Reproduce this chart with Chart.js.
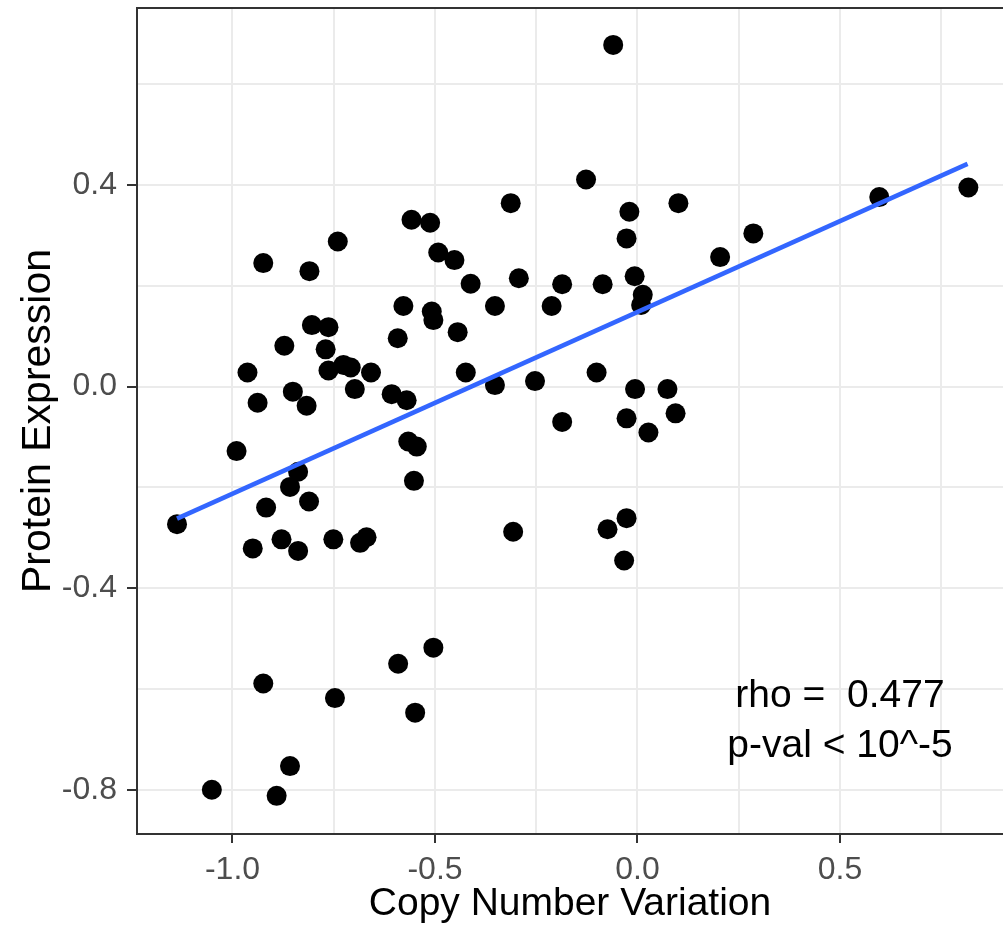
<!DOCTYPE html>
<html>
<head>
<meta charset="utf-8">
<script src="https://cdn.jsdelivr.net/npm/chart.js@4"></script>
<style>
  body { margin: 0; background: #ffffff; }
  canvas { display: block; }
</style>
</head>
<body>
<canvas id="graficaCnv" width="1003" height="940"></canvas>
<script>
// Values
const copyNumber = [
  -1.137, -1.051, -0.990, -0.963, -0.950, -0.938, -0.924, -0.924, -0.917, -0.891,
  -0.879, -0.872, -0.858, -0.858, -0.851, -0.838, -0.838, -0.817, -0.810, -0.811,
  -0.804, -0.763, -0.770, -0.763, -0.751, -0.747, -0.740, -0.726, -0.708, -0.698,
  -0.685, -0.669, -0.658, -0.607, -0.592, -0.591, -0.578, -0.570, -0.566, -0.558,
  -0.552, -0.549, -0.545, -0.512, -0.508, -0.504, -0.504, -0.492, -0.452, -0.444,
  -0.424, -0.412, -0.352, -0.352, -0.313, -0.307, -0.293, -0.253, -0.212, -0.186,
  -0.186, -0.127, -0.101, -0.086, -0.074, -0.060, -0.033, -0.027, -0.027, -0.027,
  -0.020, -0.007, -0.006, 0.013, 0.009, 0.027, 0.074, 0.094, 0.101, 0.204,
  0.286, 0.597, 0.817
];
const proteinExpression = [
  -0.273, -0.800, -0.128, 0.028, -0.321, -0.032, 0.245, -0.589, -0.240, -0.812,
  -0.303, 0.081, -0.753, -0.199, -0.010, -0.326, -0.169, -0.038, 0.229, -0.228,
  0.122, 0.118, 0.074, 0.032, -0.303, -0.618, 0.288, 0.043, 0.038, -0.005,
  -0.310, -0.299, 0.028, -0.015, 0.096, -0.550, 0.160, -0.027, -0.109, 0.331,
  -0.187, -0.647, -0.119, 0.325, 0.149, 0.132, -0.518, 0.266, 0.251, 0.108,
  0.028, 0.204, 0.160, 0.003, 0.364, -0.288, 0.215, 0.011, 0.160, 0.203,
  -0.070, 0.411, 0.028, 0.203, -0.283, 0.678, -0.345, -0.261, -0.063, 0.294,
  0.347, 0.219, -0.005, 0.182, 0.162, -0.091, -0.005, -0.053, 0.364, 0.257,
  0.304, 0.376, 0.395
];

// fitted line (ends as drawn in the picture)
const fitX = [-1.137, 0.815];
const fitY = [-0.262, 0.442];

const xMajorTicks = [-1.0, -0.5, 0.0, 0.5];
const xMinorTicks = [-0.75, -0.25, 0.25, 0.75];
const xTickLabels = ['-1.0', '-0.5', '0.0', '0.5'];
const yMajorTicks = [-0.8, -0.4, 0.0, 0.4];
const yMinorTicks = [-0.6, -0.2, 0.2, 0.6];
const yTickLabels = ['-0.8', '-0.4', '0.0', '0.4'];

const statLines = ['rho =  0.477', 'p-val < 10^-5'];
const statX = 0.5;
const statY = [-0.635, -0.734];

const fuente = '"Liberation Sans", Arial, sans-serif';

function esMayor(valor, lista) {
    return lista.some(v => Math.abs(v - valor) < 1e-9);
}

function construirTicks(mayores, menores) {
    return function (scale) {
        scale.ticks = mayores.concat(menores).sort((a, b) => a - b).map(v => ({ value: v }));
    };
}

function etiqueta(mayores, etiquetas) {
    return function (value) {
        const i = mayores.findIndex(v => Math.abs(v - value) < 1e-9);
        return i >= 0 ? etiquetas[i] : '';
    };
}

// no extra room for half labels: the panel is placed by hand
function sinRelleno(scale) {
    scale.paddingTop = 0;
    scale.paddingBottom = 0;
    scale.paddingLeft = 0;
    scale.paddingRight = 0;
}

// panel border (grey20) and the rho / p-value text
const marcoYTexto = {
    id: 'marcoYTexto',
    afterDraw(chart) {
        const { ctx, chartArea, scales } = chart;
        ctx.save();
        ctx.font = '39px ' + fuente;
        ctx.fillStyle = '#000000';
        ctx.textAlign = 'center';
        ctx.textBaseline = 'alphabetic';
        statLines.forEach((linea, i) => {
            ctx.fillText(linea, scales.x.getPixelForValue(statX), scales.y.getPixelForValue(statY[i]));
        });
        ctx.strokeStyle = '#333333';
        ctx.lineWidth = 2;
        ctx.beginPath();
        ctx.moveTo(chartArea.right + 2, chartArea.top);
        ctx.lineTo(chartArea.left, chartArea.top);
        ctx.lineTo(chartArea.left, chartArea.bottom);
        ctx.lineTo(chartArea.right + 2, chartArea.bottom);
        ctx.stroke();
        ctx.restore();
    }
};

const puntos = copyNumber.map((x, i) => ({ x: x, y: proteinExpression[i] }));
const recta = fitX.map((x, i) => ({ x: x, y: fitY[i] }));

new Chart(document.getElementById('graficaCnv').getContext('2d'), {
    type: 'scatter',
    data: {
        datasets: [
            {
                type: 'line',
                data: recta,
                borderColor: '#3366FF',
                borderWidth: 4.5,
                pointRadius: 0,
                fill: false,
                order: 0
            },
            {
                data: puntos,
                backgroundColor: '#000000',
                borderWidth: 0,
                pointRadius: 10,
                order: 1
            }
        ]
    },
    options: {
        responsive: false,
        animation: false,
        devicePixelRatio: 1,
        layout: { autoPadding: false, padding: { top: 8, right: 0, bottom: 0, left: 0 } },
        plugins: { legend: { display: false }, tooltip: { enabled: false } },
        scales: {
            x: {
                type: 'linear',
                min: -1.2358,
                max: 0.9025,
                afterBuildTicks: construirTicks(xMajorTicks, xMinorTicks),
                afterFit(scale) { scale.height = 106; sinRelleno(scale); },
                border: { display: false },
                grid: {
                    color: '#EBEBEB',
                    lineWidth: 2,
                    tickLength: 9,
                    tickWidth: 2,
                    tickColor: ctx => esMayor(ctx.tick.value, xMajorTicks) ? '#333333' : 'rgba(0,0,0,0)'
                },
                ticks: {
                    autoSkip: false,
                    maxRotation: 0,
                    padding: 8,
                    color: '#4D4D4D',
                    font: { family: fuente, size: 32 },
                    callback: etiqueta(xMajorTicks, xTickLabels)
                },
                title: {
                    display: true,
                    text: 'Copy Number Variation',
                    color: '#000000',
                    font: { family: fuente, size: 39 },
                    padding: { top: 0, bottom: 12 }
                }
            },
            y: {
                type: 'linear',
                min: -0.8877,
                max: 0.7512,
                afterBuildTicks: construirTicks(yMajorTicks, yMinorTicks),
                afterFit(scale) { scale.width = 137; sinRelleno(scale); },
                border: { display: false },
                grid: {
                    color: '#EBEBEB',
                    lineWidth: 2,
                    tickLength: 10,
                    tickWidth: 2,
                    tickColor: ctx => esMayor(ctx.tick.value, yMajorTicks) ? '#333333' : 'rgba(0,0,0,0)'
                },
                ticks: {
                    autoSkip: false,
                    padding: 10,
                    color: '#4D4D4D',
                    font: { family: fuente, size: 32 },
                    callback: etiqueta(yMajorTicks, yTickLabels)
                },
                title: {
                    display: true,
                    text: 'Protein Expression',
                    color: '#000000',
                    font: { family: fuente, size: 41 },
                    padding: { top: 14, bottom: 0 }
                }
            }
        }
    },
    plugins: [marcoYTexto]
});
</script>
</body>
</html>
